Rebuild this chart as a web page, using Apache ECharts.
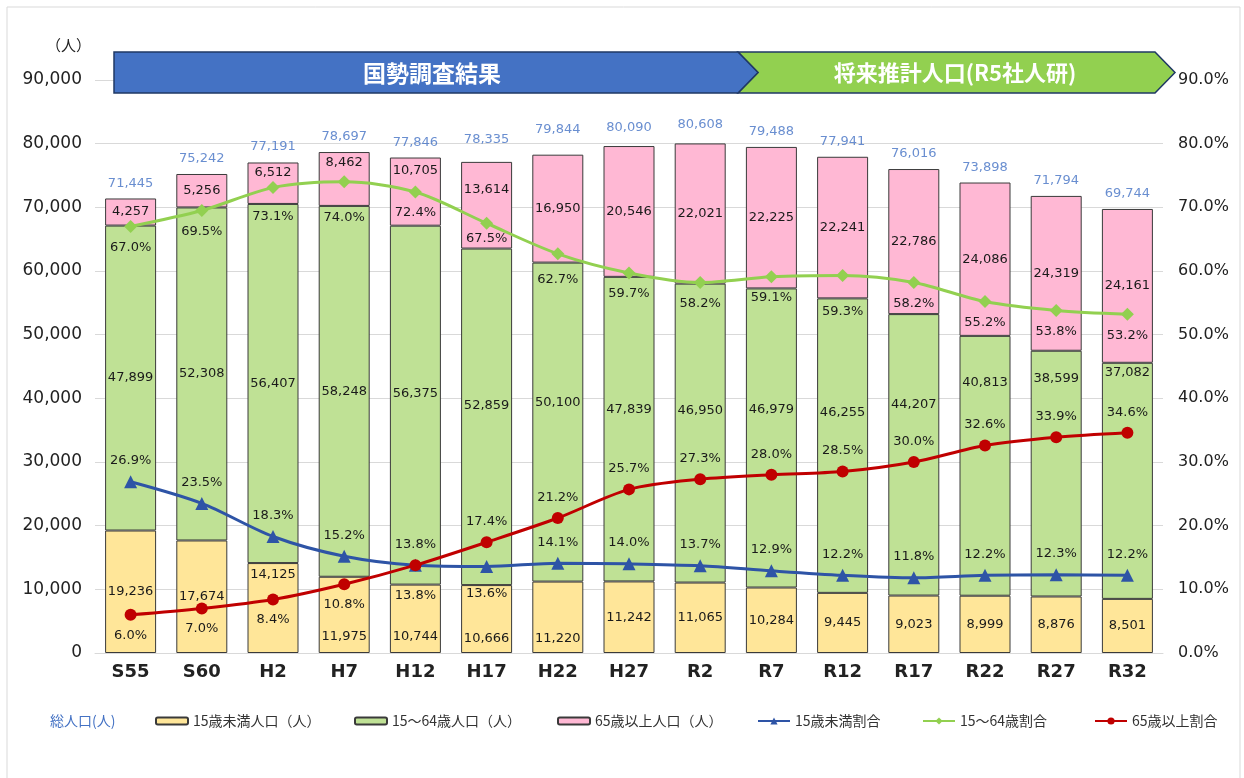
<!DOCTYPE html>
<html>
<head>
<meta charset="utf-8">
<script src="https://cdn.jsdelivr.net/npm/echarts@6/dist/echarts.min.js"></script>
<style>
  html, body { margin: 0; padding: 0; background: #fff; }
  #main { width: 1244px; height: 778px; }
</style>
</head>
<body>
<div id="main"></div>
<script>
// 年次
var categories = ['S55', 'S60', 'H2', 'H7', 'H12', 'H17', 'H22', 'H27', 'R2', 'R7', 'R12', 'R17', 'R22', 'R27', 'R32'];
// 人口（人）
var totalPop = [71445, 75242, 77191, 78697, 77846, 78335, 79844, 80090, 80608, 79488, 77941, 76016, 73898, 71794, 69744];
var under15 = [19236, 17674, 14125, 11975, 10744, 10666, 11220, 11242, 11065, 10284, 9445, 9023, 8999, 8876, 8501];
var age15to64 = [47899, 52308, 56407, 58248, 56375, 52859, 50100, 47839, 46950, 46979, 46255, 44207, 40813, 38599, 37082];
var over65 = [4257, 5256, 6512, 8462, 10705, 13614, 16950, 20546, 22021, 22225, 22241, 22786, 24086, 24319, 24161];
// 割合（%）
var rateUnder15 = [26.9, 23.5, 18.3, 15.2, 13.8, 13.6, 14.1, 14.0, 13.7, 12.9, 12.2, 11.8, 12.2, 12.3, 12.2];
var rate15to64 = [67.0, 69.5, 73.1, 74.0, 72.4, 67.5, 62.7, 59.7, 58.2, 59.1, 59.3, 58.2, 55.2, 53.8, 53.2];
var rateOver65 = [6.0, 7.0, 8.4, 10.8, 13.8, 17.4, 21.2, 25.7, 27.3, 28.0, 28.5, 30.0, 32.6, 33.9, 34.6];

// ラベル位置の調整（見た目のみ）
var under15LabelPos = ['inside', 'inside', 'insideTop', 'insideBottom', 'insideBottom', 'insideBottom', 'insideBottom', 'inside', 'inside', 'inside', 'inside', 'inside', 'inside', 'inside', 'inside'];
var under15LabelShift = [0, 0, 0, -5, -5, -3, -3, 0, 0, 0, 0, 0, 0, 0, 0];
var midLabelShift = [0, 0, 0, 0, -12, -11, -19, -20, -22, -28, -33, -50, -83, -95, -108];
var oldLabelShift = [0, 0, -11, -16, -21, -16, 0, 0, 0, 0, 0, 0, 0, 0, 0];
var blueLabelPos = ['top', 'top', 'top', 'top', 'top', 'bottom', 'top', 'top', 'top', 'top', 'top', 'top', 'top', 'top', 'top'];
var blueLabelShift = [0, 0, 0, 0, 0, 6, 0, 0, 0, 0, 0, 0, 0, 0, 0];
var redLabelPos = ['bottom', 'bottom', 'bottom', 'bottom', 'bottom', 'top', 'top', 'top', 'top', 'top', 'top', 'top', 'top', 'top', 'top'];
var redLabelShift = [0, 0, 0, 0, 10, 0, 0, 0, 0, 0, 0, 0, 0, 0, 0];
var greenLabelShift = [0, 0, 8, 15, 0, -6, 5, 0, 0, 0, 15, 0, 0, 0, 0];

var FONT = '"Noto Sans CJK JP", "Noto Sans", sans-serif';
var NUM_FONT = '"DejaVu Sans", "Noto Sans", sans-serif';
var fmt = function (v) { return v.toLocaleString('en-US'); };
var pct = function (v) { return v.toFixed(1) + '%'; };

var chart = echarts.init(document.getElementById('main'));

var labelBase = { show: true, color: '#1a1a1a', fontSize: 13, fontFamily: NUM_FONT };

function barSeries(name, values, color, posFn, shiftFn) {
  return {
    name: name,
    type: 'bar',
    stack: 'pop',
    barWidth: 51,
    itemStyle: { color: color, borderColor: '#3a3a3a', borderWidth: 1 },
    label: Object.assign({}, labelBase, { formatter: function (p) { return fmt(p.value); } }),
    data: values.map(function (v, i) {
      return {
        value: v,
        label: { position: posFn ? posFn(i) : 'inside', offset: [0, shiftFn ? shiftFn(i) : 0] }
      };
    })
  };
}

function rateSeries(name, values, color, symbol, size, posFn, shiftFn) {
  return {
    name: name,
    type: 'line',
    yAxisIndex: 1,
    smooth: 0.3,
    symbol: symbol,
    symbolSize: size,
    lineStyle: { color: color, width: 3 },
    itemStyle: { color: color },
    label: Object.assign({}, labelBase, { distance: 8, formatter: function (p) { return pct(p.value); } }),
    z: 5,
    data: values.map(function (v, i) {
      return { value: v, label: { position: posFn(i), offset: [0, shiftFn ? shiftFn(i) : 0] } };
    })
  };
}

var legendText = { fontSize: 14, color: '#333', fontFamily: FONT };
function legendAt(left, name, extra) {
  return Object.assign({
    left: left, top: 709, itemWidth: 32, itemHeight: 7, itemGap: 0,
    textStyle: legendText, selectedMode: false,
    data: [name]
  }, extra || {});
}

var option = {
  backgroundColor: '#fff',
  animation: false,
  grid: { left: 95, right: 81, top: 80, bottom: 125 },
  graphic: [
    { type: 'rect', z: 100, shape: { x: 7, y: 7, width: 1233, height: 790 }, style: { fill: 'none', stroke: '#d9d9d9', lineWidth: 1 }, silent: true },
    { type: 'text', z: 100, left: 46, top: 38, style: { text: '（人）', fill: '#222', font: '15px ' + FONT } },
    { type: 'polygon', z: 100, shape: { points: [[738, 52], [1155, 52], [1175, 72.5], [1155, 93], [738, 93], [758, 72.5]] },
      style: { fill: '#92D050', stroke: '#1F3864', lineWidth: 1.5 } },
    { type: 'polygon', z: 101, shape: { points: [[114, 52], [738, 52], [758, 72.5], [738, 93], [114, 93]] },
      style: { fill: '#4472C4', stroke: '#1F3864', lineWidth: 1.5 } },
    { type: 'text', z: 102, x: 432, y: 73, style: { text: '国勢調査結果', fill: '#fff', font: 'bold 23px ' + FONT, align: 'center', verticalAlign: 'middle' } },
    { type: 'text', z: 102, x: 955, y: 73, style: { text: '将来推計人口(R5社人研)', fill: '#fff', font: 'bold 22px ' + FONT, align: 'center', verticalAlign: 'middle' } }
  ],
  legend: [
    legendAt(40, '総人口(人)', { itemWidth: 0, data: [{ name: '総人口(人)', icon: 'none', textStyle: { color: '#4472C4', fontSize: 14, fontFamily: FONT } }] }),
    legendAt(150, '15歳未満人口（人）'),
    legendAt(349, '15～64歳人口（人）'),
    legendAt(552, '65歳以上人口（人）'),
    legendAt(752, '15歳未満割合', { itemHeight: 9 }),
    legendAt(917, '15～64歳割合', { itemHeight: 9 }),
    legendAt(1089, '65歳以上割合', { itemHeight: 9 })
  ],
  xAxis: {
    type: 'category',
    data: categories,
    axisTick: { show: false },
    axisLine: { lineStyle: { color: '#d9d9d9' } },
    axisLabel: { color: '#222', fontSize: 18, fontWeight: 'bold', fontFamily: NUM_FONT, margin: 10 }
  },
  yAxis: [
    {
      type: 'value', min: 0, max: 90000, interval: 10000,
      axisLine: { show: false }, axisTick: { show: false },
      splitLine: { lineStyle: { color: '#d9d9d9' } },
      axisLabel: { color: '#222', fontSize: 17, fontFamily: NUM_FONT, margin: 13, formatter: function (v) { return fmt(v); } }
    },
    {
      type: 'value', min: 0, max: 90, interval: 10,
      axisLine: { show: false }, axisTick: { show: false },
      splitLine: { show: false },
      axisLabel: { color: '#222', fontSize: 16, fontFamily: NUM_FONT, margin: 15, formatter: function (v) { return pct(v); } }
    }
  ],
  series: [
    barSeries('15歳未満人口（人）', under15, '#FFE699', function (i) { return under15LabelPos[i]; }, function (i) { return under15LabelShift[i]; }),
    barSeries('15～64歳人口（人）', age15to64, '#BFE195', null, function (i) { return midLabelShift[i]; }),
    barSeries('65歳以上人口（人）', over65, '#FFB8D4', null, function (i) { return oldLabelShift[i]; }),
    {
      name: '総人口(人)',
      type: 'scatter',
      symbolSize: 1,
      itemStyle: { color: 'rgba(0,0,0,0)' },
      label: { show: true, position: 'top', distance: 8, color: '#4472C4', fontSize: 13, fontFamily: NUM_FONT, formatter: function (p) { return fmt(p.value); } },
      data: totalPop
    },
    rateSeries('15歳未満割合', rateUnder15, '#2E54A6', 'triangle', 13, function (i) { return blueLabelPos[i]; }, function (i) { return blueLabelShift[i]; }),
    rateSeries('15～64歳割合', rate15to64, '#92D050', 'diamond', 13, function () { return 'bottom'; }, function (i) { return greenLabelShift[i]; }),
    rateSeries('65歳以上割合', rateOver65, '#C00000', 'circle', 12, function (i) { return redLabelPos[i]; }, function (i) { return redLabelShift[i]; })
  ]
};

chart.setOption(option);
</script>
</body>
</html>
